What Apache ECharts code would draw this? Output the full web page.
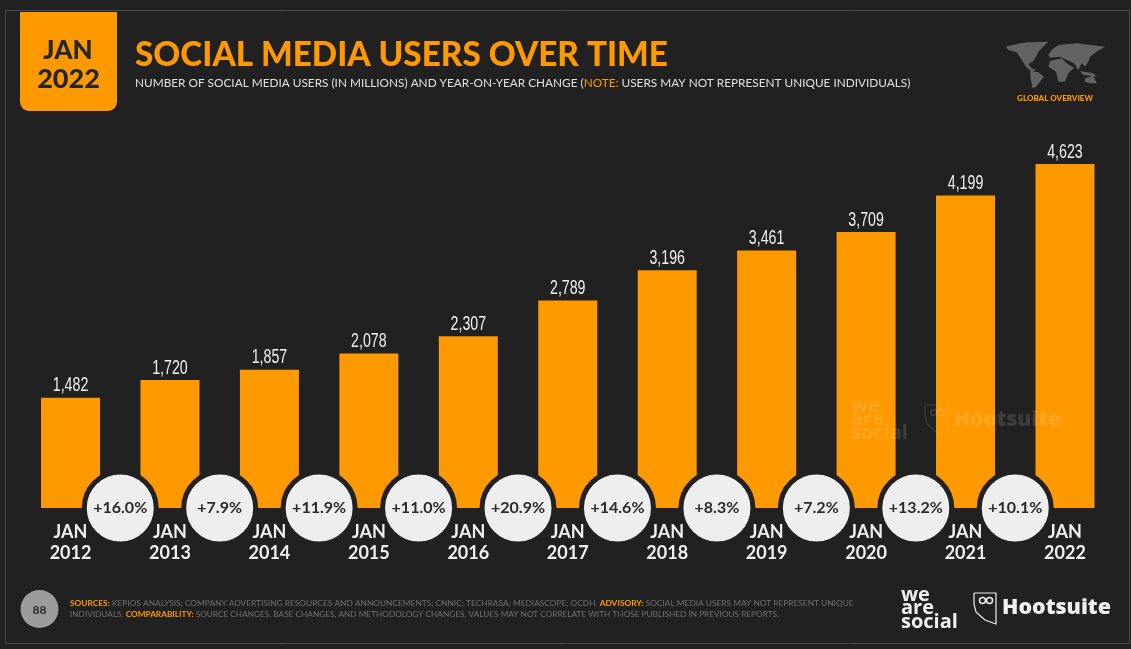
<!DOCTYPE html>
<html>
<head>
<meta charset="utf-8">
<style>
  html, body { margin: 0; padding: 0; background: #212121; }
  #main { width: 1131px; height: 649px; }
</style>
<script src="https://cdn.jsdelivr.net/npm/echarts@6/dist/echarts.min.js"></script>
</head>
<body>
<div id="main"></div>
<script>
// data
var years = ['2012', '2013', '2014', '2015', '2016', '2017', '2018', '2019', '2020', '2021', '2022'];
var users = [1482, 1720, 1857, 2078, 2307, 2789, 3196, 3461, 3709, 4199, 4623];
var changes = ['+16.0%', '+7.9%', '+11.9%', '+11.0%', '+20.9%', '+14.6%', '+8.3%', '+7.2%', '+13.2%', '+10.1%'];

var ORANGE = '#ff9900';
var BG = '#212121';
var DARK = '#262626';
var FONT = 'Lato, "Open Sans", sans-serif';
var LOGO_FONT = '"Open Sans", Inter, sans-serif';

var myChart = echarts.init(document.getElementById('main'));

// rough outline of the continents for the small map top right, scaled down below
var mapShapes = [
    [[18,35],[60,25],[85,22],[145,20],[130,35],[115,50],[108,65],[100,78],[85,88],[95,100],[108,105],[95,110],[78,95],[65,75],[50,52],[25,45]],
    [[90,108],[115,112],[132,125],[120,140],[105,158],[97,158],[92,130]],
    [[150,78],[185,70],[200,85],[222,98],[205,115],[195,140],[175,140],[168,110],[145,95]],
    [[145,60],[155,45],[175,30],[230,25],[315,35],[290,50],[270,65],[265,80],[255,95],[245,85],[235,105],[222,85],[200,75],[180,65],[150,68]],
    [[240,108],[280,115],[290,125],[250,120]],
    [[255,130],[280,122],[290,145],[270,145],[255,140]]
];

function owl(dx, dy, color) {
    return [
        { type: 'polyline', z: 20, shape: { points: [[974+dx,593+dy],[996+dx,593+dy],[996+dx,624+dy],[985+dx,620+dy],[976+dx,612+dy],[974+dx,604+dy],[974+dx,593+dy]] }, style: { fill: 'none', stroke: color, lineWidth: 1.2 } },
        { type: 'circle', z: 20, shape: { cx: 982.5+dx, cy: 600.5+dy, r: 3 }, style: { fill: 'none', stroke: color, lineWidth: 1.5 } },
        { type: 'circle', z: 20, shape: { cx: 989.5+dx, cy: 600.5+dy, r: 3 }, style: { fill: 'none', stroke: color, lineWidth: 1.5 } }
    ];
}

function logoWords(x, y, color) {
    return ['we', 'are', 'social'].map(function (word, i) {
        return { type: 'text', z: 20, style: { x: x, y: y + i * 13.5, text: word, fill: color, font: '700 20px ' + LOGO_FONT, verticalAlign: 'middle' } };
    });
}

var graphics = [
    // frame
    { type: 'rect', z: 0, silent: true, shape: { x: 5.5, y: 10.5, width: 1124, height: 633 }, style: { fill: 'none', stroke: '#4a4a4a', lineWidth: 1 } },
    // date badge
    { type: 'rect', z: 20, shape: { x: 20, y: 12, width: 97, height: 99, r: [0, 0, 9, 9] }, style: { fill: ORANGE } },
    { type: 'text', z: 21, style: { x: 68, y: 51, text: 'JAN', fill: DARK, font: '900 26px ' + FONT, align: 'center', verticalAlign: 'middle' } },
    { type: 'text', z: 21, style: { x: 68.5, y: 79, text: '2022', fill: DARK, font: '900 27px ' + FONT, align: 'center', verticalAlign: 'middle' } },
    // subtitle
    { type: 'text', z: 20, style: {
        x: 135, y: 83, verticalAlign: 'middle',
        text: '{a|NUMBER OF SOCIAL MEDIA USERS (IN MILLIONS) AND YEAR-ON-YEAR CHANGE (}{b|NOTE:}{a| USERS MAY NOT REPRESENT UNIQUE INDIVIDUALS)}',
        rich: {
            a: { fill: '#e0e0e0', font: '400 11.8px ' + FONT },
            b: { fill: ORANGE, font: '400 11.8px ' + FONT }
        }
    } },
    // region tag
    { type: 'text', z: 20, style: { x: 1055, y: 98, text: 'GLOBAL OVERVIEW', fill: ORANGE, font: '900 8px ' + FONT, align: 'center', verticalAlign: 'middle' } },
    // page number
    { type: 'circle', z: 20, shape: { cx: 39.5, cy: 609, r: 19 }, style: { fill: '#9c9c9c' } },
    { type: 'text', z: 21, style: { x: 39.5, y: 610, text: '88', fill: '#2a2a2a', font: '700 12px ' + FONT, align: 'center', verticalAlign: 'middle' } },
    // footnote
    { type: 'text', z: 20, style: {
        x: 70, y: 603, verticalAlign: 'middle',
        text: '{o|SOURCES:}{g| KEPIOS ANALYSIS; COMPANY ADVERTISING RESOURCES AND ANNOUNCEMENTS; CNNIC; TECHRASA; MEDIASCOPE; OCDH. }{o|ADVISORY:}{g| SOCIAL MEDIA USERS MAY NOT REPRESENT UNIQUE}',
        rich: {
            o: { fill: ORANGE, font: '700 8.35px ' + FONT },
            g: { fill: '#707070', font: '400 8.35px ' + FONT }
        }
    } },
    { type: 'text', z: 20, style: {
        x: 70, y: 614.5, verticalAlign: 'middle',
        text: '{g|INDIVIDUALS. }{o|COMPARABILITY:}{g| SOURCE CHANGES, BASE CHANGES, AND METHODOLOGY CHANGES. VALUES MAY NOT CORRELATE WITH THOSE PUBLISHED IN PREVIOUS REPORTS.}',
        rich: {
            o: { fill: ORANGE, font: '700 8.25px ' + FONT },
            g: { fill: '#707070', font: '400 8.25px ' + FONT }
        }
    } },
    // logos bottom right
    { type: 'text', z: 20, style: { x: 1002, y: 608, text: 'Hootsuite', fill: '#f0f0f0', font: '800 21.4px ' + LOGO_FONT, verticalAlign: 'middle' } },
    // watermark on the bars
    { type: 'text', z: 20, style: { x: 954, y: 420, text: 'Hootsuite', fill: 'rgba(255,255,255,0.13)', font: '800 21px ' + LOGO_FONT, verticalAlign: 'middle' } }
];

mapShapes.forEach(function (pts) {
    graphics.push({
        type: 'polygon', z: 20,
        shape: { points: pts.map(function (p) { return [1000 + p[0] / 3, 35 + p[1] / 3]; }) },
        style: { fill: '#636363' }
    });
});
graphics = graphics.concat(
    logoWords(901, 595, '#f0f0f0'),
    logoWords(851, 406, 'rgba(255,255,255,0.13)'),
    owl(0, 0, '#f0f0f0'),
    owl(-49, -188, 'rgba(255,255,255,0.13)')
);

var option = {
    backgroundColor: BG,
    animation: false,
    title: {
        text: 'SOCIAL MEDIA USERS OVER TIME',
        left: 130,
        top: 34,
        textStyle: { color: ORANGE, fontFamily: FONT, fontWeight: 900, fontSize: 33.3 }
    },
    grid: { left: 20.8, right: 16.3, top: 136, bottom: 141 },
    xAxis: [
        {
            type: 'category',
            data: years.map(function (y) { return 'JAN\n' + y; }),
            z: 10,
            axisTick: { show: false },
            axisLine: { show: false },
            axisLabel: {
                color: '#f0f0f0',
                fontFamily: FONT,
                fontWeight: 700,
                fontSize: 18,
                lineHeight: 21,
                margin: 14,
                interval: 0
            }
        },
        {
            // hidden value axis so the circles can sit between two categories
            type: 'value',
            min: -0.5,
            max: 10.5,
            show: false
        }
    ],
    yAxis: {
        type: 'value',
        min: 0,
        max: 5000,
        show: false
    },
    series: [
        {
            type: 'bar',
            data: users,
            barWidth: 59,
            itemStyle: { color: ORANGE }
        },
        {
            // value labels: narrow lettering, so squeeze the text horizontally
            type: 'custom',
            data: users.map(function (v, i) { return [i, v]; }),
            clip: false,
            z: 3,
            renderItem: function (params, api) {
                var pt = api.coord([api.value(0), api.value(1)]);
                return {
                    type: 'text',
                    x: pt[0],
                    y: pt[1] - 12,
                    scaleX: 0.71,
                    style: {
                        text: echarts.format.addCommas(api.value(1)),
                        fill: '#f0f0f0',
                        font: '400 20px "Liberation Sans", sans-serif',
                        align: 'center',
                        verticalAlign: 'middle'
                    }
                };
            }
        },
        {
            type: 'scatter',
            xAxisIndex: 1,
            clip: false,
            symbolSize: 72,
            data: changes.map(function (c, i) { return { value: [i + 0.5, 0], name: c }; }),
            itemStyle: { color: '#eeeeee', borderColor: BG, borderWidth: 5, opacity: 1 },
            label: {
                show: true,
                position: 'inside',
                color: '#2a2a2a',
                fontFamily: FONT,
                fontWeight: 700,
                fontSize: 16,
                formatter: function (p) { return p.name; }
            }
        }
    ],
    graphic: graphics
};

myChart.setOption(option);
</script>
</body>
</html>
